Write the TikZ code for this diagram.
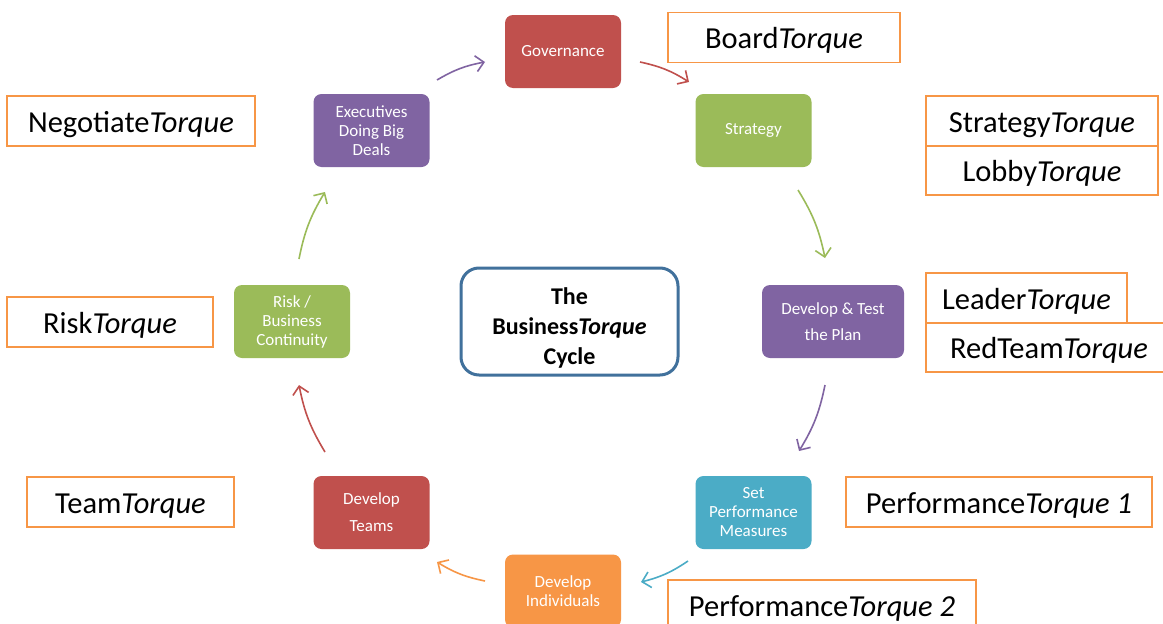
\documentclass[tikz,border=0pt]{standalone}
\usepackage{fontspec}
\setmainfont{Carlito}
\usetikzlibrary{arrows.meta,positioning}
\definecolor{cred}{HTML}{C0504D}
\definecolor{cgreen}{HTML}{9BBB59}
\definecolor{cpurple}{HTML}{8064A2}
\definecolor{cteal}{HTML}{4BACC6}
\definecolor{corange}{HTML}{F79646}
\definecolor{cblue}{HTML}{41719C}
\tikzset{
  stage/.style={rounded corners=8pt, minimum width=116pt, minimum height=73pt, text=white, align=center, font=\fontsize{17}{19}\selectfont, inner sep=2pt},
  tag/.style={draw=corange, line width=1.5pt, fill=white, minimum height=50pt, font=\fontsize{30.5}{34}\selectfont, inner sep=0pt, text height=27pt, text depth=5pt},
  flow/.style={line width=1.6pt, -{Straight Barb[length=8pt,width=16pt,line width=1.6pt]}, bend left=10},
}
\begin{document}
\begin{tikzpicture}[x=1pt,y=-1pt]
\useasboundingbox (0,0) rectangle (1163,624);
\fill[white] (0,0) rectangle (1163,624);

% stages
\node[stage, fill=cred] (gov) at (563,51.5) {Governance};
\node[stage, fill=cgreen] (strat) at (753.5,130.5) {Strategy};
\node[stage, fill=cpurple, minimum width=142pt] (dev) at (833,321.5) {Develop \& Test\\[7pt]the Plan};
\node[stage, fill=cteal] (set) at (753.5,512.5) {Set\\Performance\\Measures};
\node[stage, fill=corange] (ind) at (563,591) {Develop\\Individuals};
\node[stage, fill=cred] (teams) at (371.5,512.5) {Develop\\[8pt]Teams};
\node[stage, fill=cgreen] (risk) at (292,321.5) {Risk /\\Business\\Continuity};
\node[stage, fill=cpurple] (exec) at (371.5,130.5) {Executives\\Doing Big\\Deals};

% centre
\node[draw=cblue, line width=3pt, rounded corners=18pt, fill=white, minimum width=217pt, minimum height=107pt, align=center, font=\fontsize{24}{30}\selectfont\bfseries] (ctr) at (569.5,321.5) {\rule{0pt}{30pt}The\\Business\textit{Torque}\\Cycle};

% tags
\node[tag, minimum width=232pt] (tboard) at (784,37.5) {Board\textit{Torque}};
\node[tag, minimum width=232pt] (tstrat) at (1042,121) {Strategy\textit{Torque}};
\node[tag, minimum width=232pt, minimum height=49pt] (tlobby) at (1042,170.5) {Lobby\textit{Torque}};
\node[tag, minimum width=246pt, minimum height=49pt] (tred) at (1049,347.5) {RedTeam\textit{Torque}};
\node[tag, minimum width=201pt] (tleader) at (1026.5,298) {Leader\textit{Torque}};
\node[tag, minimum width=306pt] (tperf1) at (999,502) {Performance\textit{Torque 1}};
\node[tag, minimum width=308pt] (tperf2) at (822,605) {Performance\textit{Torque 2}};
\node[tag, minimum width=248pt] (tneg) at (131,121) {Negotiate\textit{Torque}};
\node[tag, minimum width=206pt] (trisk) at (110,322) {Risk\textit{Torque}};
\node[tag, minimum width=207pt] (tteam) at (130.5,502) {Team\textit{Torque}};

% arrow end points
\coordinate (a1s) at (437,80);  \coordinate (a1e) at (485,62);
\coordinate (a2s) at (640,62);  \coordinate (a2e) at (689,82);
\coordinate (a3s) at (798,190); \coordinate (a3e) at (825,258);
\coordinate (a4s) at (825,385); \coordinate (a4e) at (799,451);
\coordinate (a5s) at (688,561); \coordinate (a5e) at (641,582);
\coordinate (a6s) at (485,581); \coordinate (a6e) at (437,562);
\coordinate (a7s) at (325,452); \coordinate (a7e) at (299,385);
\coordinate (a8s) at (299,259); \coordinate (a8e) at (325,192);

\draw[flow, cpurple] (a1s) to (a1e);
\draw[flow, cred] (a2s) to (a2e);
\draw[flow, cgreen] (a3s) to (a3e);
\draw[flow, cpurple] (a4s) to (a4e);
\draw[flow, cteal] (a5s) to (a5e);
\draw[flow, corange] (a6s) to (a6e);
\draw[flow, cred] (a7s) to (a7e);
\draw[flow, cgreen] (a8s) to (a8e);
\end{tikzpicture}
\end{document}
